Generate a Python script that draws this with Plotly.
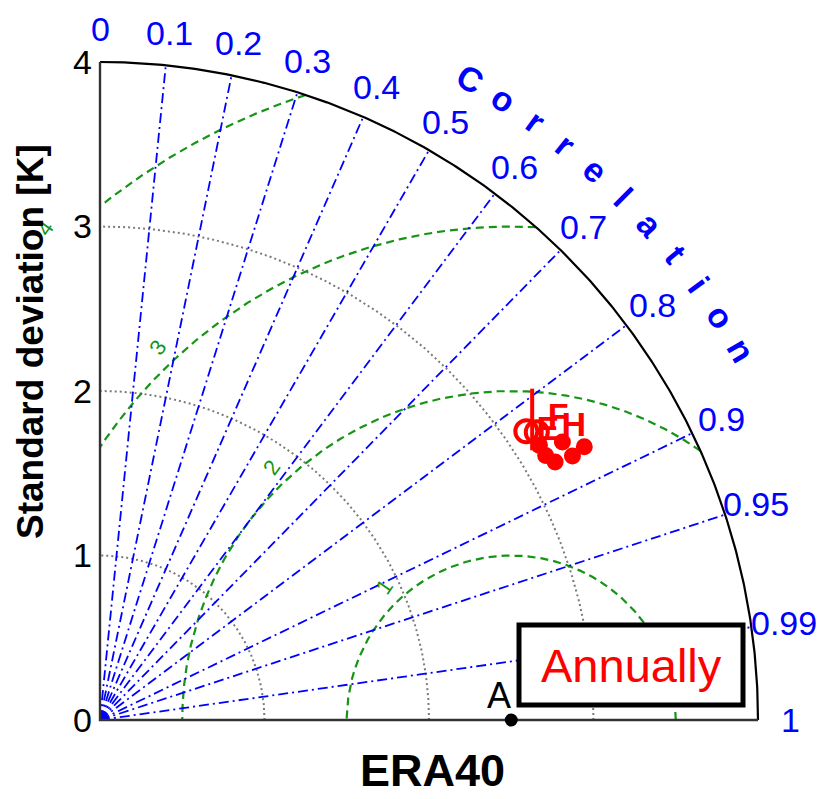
import numpy as np
import plotly.graph_objects as go

# ---- data -------------------------------------------------------------
# ERA40 reference standard deviation [K]
ref_std = 2.5
ref_label = "A"

# model statistics against ERA40 (annual): filled circles
circle_std = [3.15, 3.18, 3.29, 3.38, 3.28, 3.15]
circle_corr = [0.860, 0.870, 0.873, 0.871, 0.857, 0.848]

# open-circle models
open_std = [3.13, 3.18]
open_corr = [0.828, 0.835]

# tall bar marker model
bar_std = [3.20]
bar_corr = [0.821]

# letter-coded models
letter_names = ["F", "E", "H"]
letter_std = [3.335, 3.238, 3.384]
letter_corr = [0.835, 0.841, 0.851]

# axes / grid definitions
std_ticks = [0, 1, 2, 3, 4]
std_arcs = [1, 2, 3]
std_max = 4
corr_lines = [0.1, 0.2, 0.3, 0.4, 0.5, 0.6, 0.7, 0.8, 0.9, 0.95, 0.99]
corr_labels = [0, 0.1, 0.2, 0.3, 0.4, 0.5, 0.6, 0.7, 0.8, 0.9, 0.95, 0.99, 1]
rms_levels = [1, 2, 3, 4]

# ---- layout constants -------------------------------------------------
W, H = 825, 799
PX = 164.5           # pixels per K
X0, Y0 = 100, 720    # origin in pixels
FONT = "Liberation Sans, Arial, sans-serif"
BLUE = "#0000ff"
GREEN = "#169416"
RED = "#ff0000"


def polar_xy(std, corr):
    std = np.asarray(std, dtype=float)
    corr = np.asarray(corr, dtype=float)
    return std * corr, std * np.sqrt(1 - corr ** 2)


fig = go.Figure()

# standard deviation arcs (dotted grey)
t = np.linspace(0, np.pi / 2, 300)
for r in std_arcs:
    fig.add_trace(go.Scatter(x=r * np.cos(t), y=r * np.sin(t), mode="lines",
                             line=dict(color="#7a7a7a", width=2, dash="2px,3px"),
                             hoverinfo="skip", showlegend=False))

# centred RMS difference circles (dashed green), clipped to the quadrant
phi = np.linspace(0, np.pi, 3000)
for R in rms_levels:
    cx = ref_std + R * np.cos(phi)
    cy = R * np.sin(phi)
    keep = (cx >= 0) & (cx ** 2 + cy ** 2 <= std_max ** 2)
    cx = np.where(keep, cx, np.nan)
    cy = np.where(keep, cy, np.nan)
    fig.add_trace(go.Scatter(x=cx, y=cy, mode="lines", connectgaps=False,
                             line=dict(color=GREEN, width=2.2, dash="8px,5px"),
                             hoverinfo="skip", showlegend=False))

# correlation rays (dash-dot blue)
for c in corr_lines:
    ex, ey = polar_xy(std_max, c)
    fig.add_trace(go.Scatter(x=[0, ex], y=[0, ey], mode="lines",
                             line=dict(color=BLUE, width=1.8, dash="10px,4px,2px,4px"),
                             hoverinfo="skip", showlegend=False))

# outer arc and axes
fig.add_trace(go.Scatter(x=std_max * np.cos(t), y=std_max * np.sin(t), mode="lines",
                         line=dict(color="black", width=2.2),
                         hoverinfo="skip", showlegend=False))
fig.add_trace(go.Scatter(x=[0, 0, std_max], y=[std_max, 0, 0], mode="lines",
                         line=dict(color="#333333", width=2.4),
                         hoverinfo="skip", showlegend=False))

# model points
bx, by = polar_xy(bar_std, bar_corr)
fig.add_trace(go.Scatter(x=bx, y=by, mode="markers",
                         marker=dict(symbol="line-ns", size=44, color=RED,
                                     line=dict(color=RED, width=4)),
                         showlegend=False))
ox, oy = polar_xy(open_std, open_corr)
fig.add_trace(go.Scatter(x=ox, y=oy, mode="markers",
                         marker=dict(symbol="circle-open", size=22, color=RED,
                                     line=dict(color=RED, width=4)),
                         showlegend=False))
lx, ly = polar_xy(letter_std, letter_corr)
fig.add_trace(go.Scatter(x=lx, y=ly, mode="text", text=[f"<b>{s}</b>" for s in letter_names],
                         textfont=dict(family=FONT, size=34, color=RED),
                         showlegend=False))
cx_, cy_ = polar_xy(circle_std, circle_corr)
fig.add_trace(go.Scatter(x=cx_, y=cy_, mode="markers",
                         marker=dict(symbol="circle", size=17, color=RED),
                         showlegend=False))

# reference point
fig.add_trace(go.Scatter(x=[ref_std], y=[0], mode="markers",
                         marker=dict(symbol="circle", size=13, color="black"),
                         cliponaxis=False, showlegend=False))

annotations = [dict(x=ref_std, y=0, xref="x", yref="y", text=ref_label,
                    showarrow=False, xanchor="right", yanchor="bottom",
                    xshift=2, yshift=2,
                    font=dict(family=FONT, size=36, color="black"))]

# correlation tick labels
for c in corr_labels:
    lx_, ly_ = polar_xy(4.2, c)
    annotations.append(dict(x=float(lx_), y=float(ly_), xref="x", yref="y",
                            text=str(c), showarrow=False,
                            font=dict(family=FONT, size=34, color=BLUE),
                            xanchor="center", yanchor="middle"))

# curved "Correlation" title
word = "Correlation"
angles = np.linspace(60, 30, len(word))
for ch, a in zip(word, angles):
    ar = np.deg2rad(a)
    annotations.append(dict(x=4.5 * np.cos(ar), y=4.5 * np.sin(ar), xref="x", yref="y",
                            text=f"<b>{ch}</b>", showarrow=False, textangle=90 - a,
                            font=dict(family=FONT, size=34, color=BLUE),
                            xanchor="center", yanchor="middle"))

# RMS contour labels
la = np.deg2rad(133.5)
for R in rms_levels:
    annotations.append(dict(x=ref_std + (R + 0.12) * np.cos(la), y=(R + 0.12) * np.sin(la),
                            xref="x", yref="y", text=str(R), showarrow=False,
                            textangle=-55, font=dict(family=FONT, size=22, color=GREEN),
                            xanchor="center", yanchor="middle"))

# axis titles
annotations.append(dict(x=30 / W, y=1 - 342 / H, xref="paper", yref="paper",
                        text="<b>Standard deviation [K]</b>", showarrow=False,
                        textangle=-90, font=dict(family=FONT, size=37, color="black"),
                        xanchor="center", yanchor="middle"))
annotations.append(dict(x=432 / W, y=1 - 770 / H, xref="paper", yref="paper",
                        text="<b>ERA40</b>", showarrow=False,
                        font=dict(family=FONT, size=45, color="black"),
                        xanchor="center", yanchor="middle"))

# season box
annotations.append(dict(x=631 / W, y=1 - 665 / H, xref="paper", yref="paper",
                        text="Annually", showarrow=False,
                        font=dict(family=FONT, size=47, color=RED),
                        xanchor="center", yanchor="middle"))

shapes = [dict(type="rect", xref="paper", yref="paper",
               x0=519 / W, x1=743 / W, y0=1 - 705 / H, y1=1 - 625 / H,
               line=dict(color="black", width=5), fillcolor="white", layer="above")]

fig.update_layout(
    width=W, height=H,
    margin=dict(l=0, r=0, t=0, b=0),
    paper_bgcolor="white", plot_bgcolor="white",
    xaxis=dict(range=[-X0 / PX, (W - X0) / PX], visible=False, fixedrange=True),
    yaxis=dict(range=[-(H - Y0) / PX, Y0 / PX], anchor="free", position=X0 / W,
               tickvals=std_ticks, ticktext=[str(v) for v in std_ticks],
               showgrid=False, zeroline=False, showline=False, ticks="",
               ticklabelstandoff=8,
               tickfont=dict(family=FONT, size=34, color="black"), fixedrange=True),
    annotations=annotations,
    shapes=shapes,
    showlegend=False,
)

fig.write_html("out.html")
